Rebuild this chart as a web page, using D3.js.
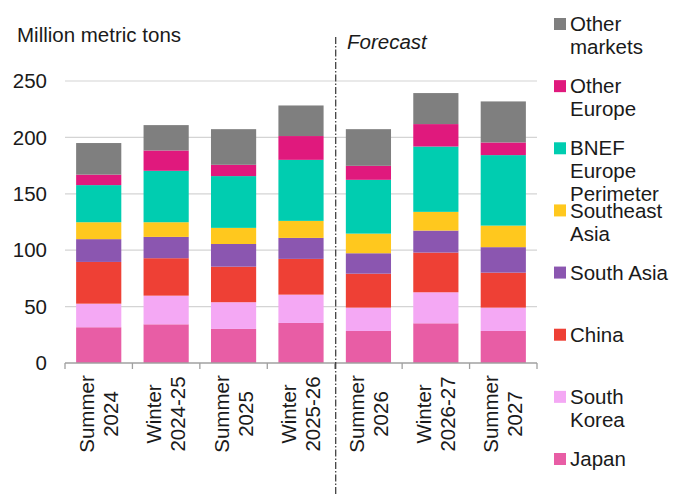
<!DOCTYPE html>
<html>
<head>
<meta charset="utf-8">
<script src="https://cdn.jsdelivr.net/npm/d3@7"></script>
<style>
  body { margin: 0; background: #fff; }
  text { font-family: "Liberation Sans", Arial, sans-serif; fill: #1a1a1a; }
</style>
</head>
<body>
<div id="chart"></div>
<script>
// Data (million metric tons)
const periods = ["Summer 2024", "Winter 2024-25", "Summer 2025", "Winter 2025-26",
                 "Summer 2026", "Winter 2026-27", "Summer 2027"];
const periodLines = [["Summer", "2024"], ["Winter", "2024-25"], ["Summer", "2025"], ["Winter", "2025-26"],
                     ["Summer", "2026"], ["Winter", "2026-27"], ["Summer", "2027"]];
const japan        = [31.7, 34.3, 30.2, 35.5, 28.4, 35.2, 28.4];
const southKorea   = [20.9, 25.4, 23.7, 25.1, 20.7, 27.5, 20.7];
const china        = [37.0, 33.2, 31.5, 31.7, 30.1, 35.2, 31.0];
const southAsia    = [20.2, 18.9, 20.1, 18.6, 18.1, 19.5, 22.6];
const southeastAsia= [15.0, 13.0, 14.3, 15.1, 17.4, 16.6, 19.1];
const bnefEurope   = [32.9, 45.6, 45.9, 54.1, 47.7, 57.9, 62.5];
const otherEurope  = [ 9.3, 18.0, 10.0, 21.1, 12.4, 19.9, 11.2];
const otherMarkets = [28.0, 22.5, 31.6, 27.1, 32.5, 27.5, 36.4];
const yTicks = [0, 50, 100, 150, 200, 250];

const series = [
  { key: "japan",  label: ["Japan"],                      values: japan,         color: "#e85da5" },
  { key: "sk",     label: ["South", "Korea"],             values: southKorea,    color: "#f4a8f4" },
  { key: "china",  label: ["China"],                      values: china,         color: "#ee4035" },
  { key: "sa",     label: ["South Asia"],                 values: southAsia,     color: "#8b56b0" },
  { key: "sea",    label: ["Southeast", "Asia"],          values: southeastAsia, color: "#ffc81e" },
  { key: "bnef",   label: ["BNEF", "Europe", "Perimeter"], values: bnefEurope,   color: "#00cdb0" },
  { key: "oe",     label: ["Other", "Europe"],            values: otherEurope,   color: "#e0197d" },
  { key: "other",  label: ["Other", "markets"],           values: otherMarkets,  color: "#7f7f7f" }
];

const width = 677, height = 496;
const plot = { left: 65, right: 537, top: 81, bottom: 363 };

const table = periods.map((p, i) => {
  const row = { period: p };
  series.forEach(s => row[s.key] = s.values[i]);
  return row;
});
const stacked = d3.stack().keys(series.map(s => s.key))(table);

const svg = d3.select("#chart")
  .append("svg")
    .attr("width", width)
    .attr("height", height);

// Scales
const xScale = d3.scaleBand()
  .domain(periods)
  .range([plot.left, plot.right])
  .paddingInner(0.33)
  .paddingOuter(0.165);
const yScale = d3.scaleLinear()
  .domain([0, 250])
  .range([plot.bottom, plot.top]);

// Gridlines
svg.append("g")
  .selectAll("line")
  .data(yTicks.filter(d => d > 0))
  .join("line")
    .attr("x1", plot.left)
    .attr("x2", plot.right)
    .attr("y1", d => yScale(d))
    .attr("y2", d => yScale(d))
    .attr("stroke", "#d4d4d4")
    .attr("stroke-width", 1.2);

// Y labels
svg.append("g")
  .selectAll("text")
  .data(yTicks)
  .join("text")
    .attr("x", 47)
    .attr("y", d => yScale(d))
    .attr("dy", "0.35em")
    .attr("text-anchor", "end")
    .style("font-size", "20.5px")
    .text(d => d);

svg.append("text")
  .attr("x", 17)
  .attr("y", 42)
  .style("font-size", "20.5px")
  .text("Million metric tons");

// Bars
svg.append("g")
  .selectAll("g")
  .data(stacked)
  .join("g")
    .attr("fill", (d, i) => series[i].color)
  .selectAll("rect")
  .data(d => d)
  .join("rect")
    .attr("x", d => xScale(d.data.period))
    .attr("width", xScale.bandwidth())
    .attr("y", d => yScale(d[1]))
    .attr("height", d => yScale(d[0]) - yScale(d[1]));

// Bottom axis with ticks between categories
const step = xScale.step();
const boundaries = d3.range(periods.length + 1).map(i => plot.left + i * step);
const axis = svg.append("g").attr("stroke", "#a0a0a0").attr("stroke-width", 1.3);
axis.append("line")
  .attr("x1", plot.left).attr("x2", plot.right)
  .attr("y1", plot.bottom).attr("y2", plot.bottom);
axis.selectAll(".tick")
  .data(boundaries)
  .join("line")
    .attr("class", "tick")
    .attr("x1", d => d).attr("x2", d => d)
    .attr("y1", plot.bottom).attr("y2", plot.bottom + 6);

// X labels (rotated, two lines)
svg.append("g")
  .selectAll("text")
  .data(periods)
  .join("text")
    .attr("transform", d => `translate(${xScale(d) + xScale.bandwidth() / 2}, 414) rotate(-90)`)
    .attr("text-anchor", "middle")
    .style("font-size", "20.5px")
    .each(function(d, i) {
      const t = d3.select(this);
      periodLines[i].forEach((line, j) => {
        t.append("tspan")
          .attr("x", 0)
          .attr("y", j === 0 ? -12 : 12)
          .attr("dy", "0.35em")
          .text(line);
      });
    });

// Forecast divider
const divX = plot.left + 4 * step + 1;
svg.append("line")
  .attr("x1", divX).attr("x2", divX)
  .attr("y1", 37).attr("y2", height)
  .attr("stroke", "#333")
  .attr("stroke-width", 1.2)
  .attr("stroke-dasharray", "7,2,1.5,2");
svg.append("text")
  .attr("x", 347)
  .attr("y", 49)
  .style("font-size", "20.5px")
  .style("font-style", "italic")
  .text("Forecast");

// Legend (top item is Other markets)
const legendItems = series.slice().reverse();
const legendY = d3.scalePoint()
  .domain(legendItems.map(s => s.key))
  .range([24, 459]);
const legend = svg.append("g")
  .selectAll("g")
  .data(legendItems)
  .join("g")
    .attr("transform", d => `translate(554, ${legendY(d.key)})`);
legend.append("rect")
  .attr("x", 0)
  .attr("y", -6)
  .attr("width", 12)
  .attr("height", 12)
  .attr("fill", d => d.color);
legend.append("text")
  .style("font-size", "20.5px")
  .each(function(d) {
    const t = d3.select(this);
    d.label.forEach((line, j) => {
      t.append("tspan")
        .attr("x", 16)
        .attr("y", j * 23)
        .attr("dy", "0.35em")
        .text(line);
    });
  });
</script>
</body>
</html>
